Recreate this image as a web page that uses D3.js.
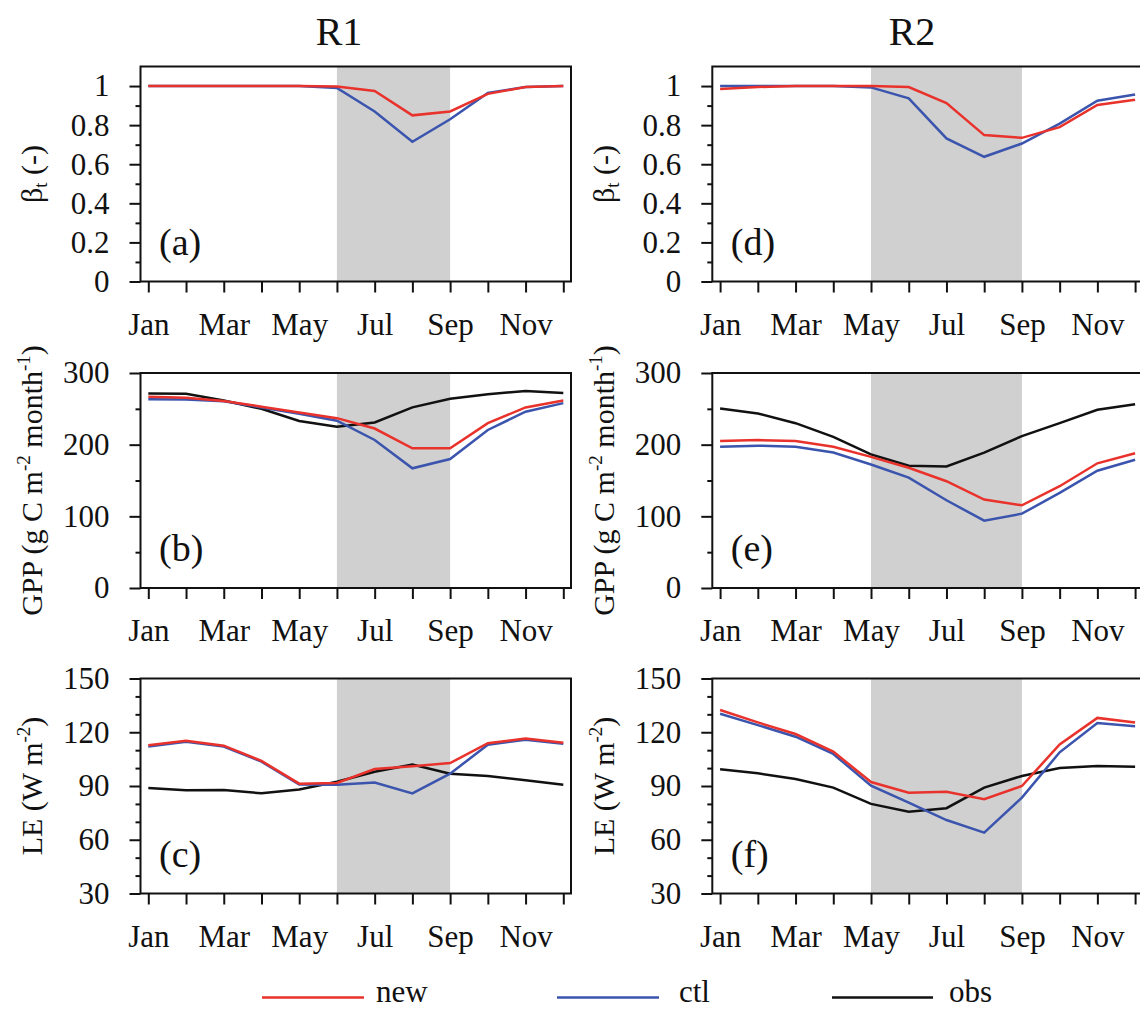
<!DOCTYPE html>
<html>
<head>
<meta charset="utf-8">
<script src="https://cdnjs.cloudflare.com/ajax/libs/d3/7.8.5/d3.min.js"></script>
<style>
body{margin:0;background:#fff;}
svg{font-family:"Liberation Serif","DejaVu Serif",serif;}
svg text{font-family:"Liberation Serif","DejaVu Serif",serif;fill:#111;}
</style>
</head>
<body>
<svg id="myGraph" width="1140" height="1010"></svg>
<script>
// month axis
var months = ["Jan","Feb","Mar","Apr","May","Jun","Jul","Aug","Sep","Oct","Nov","Dec"];
var monthLabels = ["Jan","","Mar","","May","","Jul","","Sep","","Nov",""];

// R1 values
var betaNewR1 = [1.0,1.0,1.0,1.0,1.0,0.998,0.975,0.85,0.87,0.96,0.995,1.0];
var betaCtlR1 = [1.0,1.0,1.0,1.0,1.0,0.99,0.87,0.715,0.83,0.965,0.995,1.0];
var gppNewR1 = [267,265.5,261,253,245,237,222.5,195,195,230,252,261.5];
var gppCtlR1 = [263.5,263,260.5,252,243,233.5,206.5,167,180,220.5,246,258];
var gppObsR1 = [271.5,271,261.5,250,233,225,231,252,264,270.5,275,272];
var leNewR1 = [112.7,115.3,112.5,104,91.3,91.7,99.5,101,102.8,113.9,116.5,114.2];
var leCtlR1 = [112.1,114.7,112,103.6,90.9,90.7,91.9,85.9,96.9,113,115.8,113.6];
var leObsR1 = [88.9,87.6,87.8,85.9,88,92.4,98,102,96.9,95.6,93.2,90.7];

// R2 values
var betaNewR2 = [0.985,0.995,1.0,1.0,1.0,0.995,0.913,0.749,0.735,0.79,0.903,0.93];
var betaCtlR2 = [1.0,1.0,1.0,1.0,0.993,0.937,0.732,0.638,0.706,0.808,0.925,0.957];
var gppNewR2 = [205,206.5,205,197,183,167.8,149,123.4,115.4,142,174,188];
var gppCtlR2 = [197,198.6,197,189,172.4,154,122.4,94,103.7,132.7,163.6,179];
var gppObsR2 = [250.5,243.5,230,211,186.5,170.6,169.6,188.8,212,230,248.6,256.5];
var leNewR2 = [132.4,125.5,119,109.2,92.2,86.3,86.8,82.6,90,113.2,128,125.5];
var leCtlR2 = [130.3,124,117.5,107.9,90.2,80.7,71,64,83.5,108.8,125.2,123.3];
var leObsR2 = [99.3,97.1,93.9,89.1,80,75.7,77.6,89.1,95.6,100,101.2,100.8];

// y ticks
var betaTicks = [0,0.2,0.4,0.6,0.8,1];
var betaMinor = [0.1,0.3,0.5,0.7,0.9];
var gppTicks = [0,100,200,300];
var gppMinor = [50,150,250];
var leTicks = [30,60,90,120,150];
var leMinor = [40,50,70,80,100,110,130,140];

// dry season months (index)
var dryR1 = [5,8];
var dryR2 = [4,8];

var colNew = "#e8322b", colCtl = "#3b54ad", colObs = "#111111";
var serif = "'Liberation Serif','DejaVu Serif',serif";

window.addEventListener("load",function(){

	var svg = d3.select("#myGraph");
	var pw = 430.5, ph = 215;

	var x = d3.scaleLinear().domain([0,11]).range([7.8,422.8]);

	var panels = [
		{left:140.5, top:66.5, dom:[0,1.1], ticks:betaTicks, minor:betaMinor, dry:dryR1, tag:"(a)", title:"beta", series:[null,betaCtlR1,betaNewR1]},
		{left:140.5, top:373, dom:[0,300], ticks:gppTicks, minor:gppMinor, dry:dryR1, tag:"(b)", title:"gpp", series:[gppObsR1,gppCtlR1,gppNewR1]},
		{left:140.5, top:678.5, dom:[30,150], ticks:leTicks, minor:leMinor, dry:dryR1, tag:"(c)", title:"le", series:[leObsR1,leCtlR1,leNewR1]},
		{left:712.3, top:66.5, dom:[0,1.1], ticks:betaTicks, minor:betaMinor, dry:dryR2, tag:"(d)", title:"beta", series:[null,betaCtlR2,betaNewR2]},
		{left:712.3, top:373, dom:[0,300], ticks:gppTicks, minor:gppMinor, dry:dryR2, tag:"(e)", title:"gpp", series:[gppObsR2,gppCtlR2,gppNewR2]},
		{left:712.3, top:678.5, dom:[30,150], ticks:leTicks, minor:leMinor, dry:dryR2, tag:"(f)", title:"le", series:[leObsR2,leCtlR2,leNewR2]}
	];
	var colors = [colObs,colCtl,colNew];

	panels.forEach(function(p){
		var g = svg.append("g").attr("transform","translate("+p.left+","+p.top+")");
		var y = d3.scaleLinear().domain(p.dom).range([ph,0]);

		// shaded period
		g.append("rect")
			.attr("x",x(p.dry[0])).attr("y",0)
			.attr("width",x(p.dry[1])-x(p.dry[0])).attr("height",ph)
			.style("fill","#d0d0d0");

		var line = d3.line().x(function(d,i){ return x(i); }).y(function(d){ return y(d); });
		p.series.forEach(function(s,k){
			if(!s) return;
			g.append("path").datum(s)
				.attr("d",line)
				.style("fill","none")
				.style("stroke",colors[k])
				.style("stroke-width",2.5);
		});

		g.append("rect")
			.attr("width",pw).attr("height",ph)
			.style("fill","none").style("stroke","#111").style("stroke-width",2);

		// y axis
		var ya = g.append("g").call(d3.axisLeft(y).tickValues(p.ticks).tickSize(11).tickPadding(20).tickFormat(d3.format("~g")));
		var ym = g.append("g").call(d3.axisLeft(y).tickValues(p.minor).tickSize(5).tickFormat(""));
		// x axis
		var xa = g.append("g").attr("transform","translate(0,"+ph+")")
			.call(d3.axisBottom(x).tickValues(d3.range(12)).tickSize(11).tickPadding(20)
				.tickFormat(function(d,i){ return monthLabels[i]; }));

		[ya,ym,xa].forEach(function(a){
			a.attr("font-family",serif).attr("font-size",31);
			a.select(".domain").remove();
			a.selectAll("line").style("stroke","#111").style("stroke-width",2);
			a.selectAll("text").style("font-size","31px").style("font-family",serif).style("fill","#111");
		});

		g.append("text").attr("x",18.5).attr("y",ph-27)
			.style("font-size","38px").text(p.tag);

		// y title
		var t = g.append("text")
			.attr("transform","translate("+(42-140.5)+","+(ph/2)+") rotate(-90)")
			.attr("text-anchor","middle")
			.style("font-size","30px");
		if(p.title=="beta"){
			t.append("tspan").text("\u03b2");
			t.append("tspan").attr("dy",5).style("font-size","19px").text("t");
			t.append("tspan").attr("dy",-5).text(" (-)");
		}else if(p.title=="gpp"){
			t.append("tspan").text("GPP (g C m");
			t.append("tspan").attr("dy",-12).style("font-size","19px").text("-2");
			t.append("tspan").attr("dy",12).text(" month");
			t.append("tspan").attr("dy",-12).style("font-size","19px").text("-1");
			t.append("tspan").attr("dy",12).text(")");
		}else{
			t.append("tspan").text("LE (W m");
			t.append("tspan").attr("dy",-12).style("font-size","19px").text("-2");
			t.append("tspan").attr("dy",12).text(")");
		}
	});

	// column titles
	svg.append("text").attr("x",339).attr("y",45).attr("text-anchor","middle").style("font-size","40px").text("R1");
	svg.append("text").attr("x",912).attr("y",45).attr("text-anchor","middle").style("font-size","40px").text("R2");

	// legend
	var legend = [
		{name:"new", color:colNew, x0:262, x1:364, tx:376},
		{name:"ctl", color:colCtl, x0:557, x1:659, tx:679},
		{name:"obs", color:colObs, x0:832, x1:933, tx:949}
	];
	legend.forEach(function(l){
		svg.append("line").attr("x1",l.x0).attr("x2",l.x1).attr("y1",997.5).attr("y2",997.5)
			.style("stroke",l.color).style("stroke-width",2.5);
		svg.append("text").attr("x",l.tx).attr("y",1002).style("font-size","31px").text(l.name);
	});

});
</script>
</body>
</html>
